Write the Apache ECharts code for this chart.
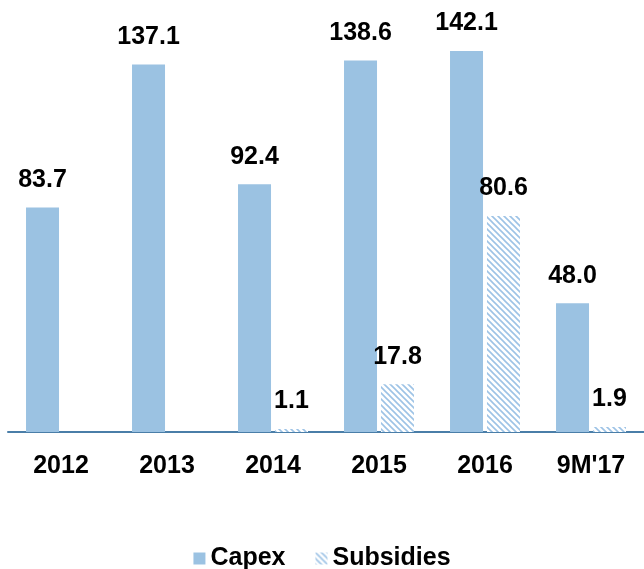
<!DOCTYPE html>
<html>
<head>
<meta charset="utf-8">
<script src="https://cdn.jsdelivr.net/npm/echarts@6/dist/echarts.min.js"></script>
<style>
  html, body { margin: 0; padding: 0; background: #fff; }
  #chart { width: 644px; height: 569px; }
</style>
</head>
<body>
<div id="chart"></div>
<script>
// data
var years = ['2012', '2013', '2014', '2015', '2016', "9M'17"]
var capex = [83.7, 137.1, 92.4, 138.6, 142.1, 48.0]
var subsidies = [null, null, 1.1, 17.8, 80.6, 1.9]

// hatched fill for subsidies
function hatch() {
  var c = document.createElement('canvas')
  c.width = 6
  c.height = 6
  var ctx = c.getContext('2d')
  ctx.fillStyle = '#fff'
  ctx.fillRect(0, 0, 6, 6)
  ctx.strokeStyle = '#9DC3E6'
  ctx.lineWidth = 1.6
  ctx.beginPath()
  ctx.moveTo(-1, -1); ctx.lineTo(7, 7)
  ctx.moveTo(-7, -1); ctx.lineTo(1, 7)
  ctx.moveTo(5, -1); ctx.lineTo(13, 7)
  ctx.stroke()
  return c
}

var chart = echarts.init(document.getElementById('chart'))
var labelStyle = {
  show: true,
  position: 'top',
  distance: 15,
  fontFamily: 'Liberation Sans, Arial',
  fontWeight: 'bold',
  fontSize: 25,
  color: '#000',
  formatter: function (p) { return p.value.toFixed(1) }
}
chart.setOption({
  animation: false,
  grid: { left: 8, right: -2, top: 3, bottom: 137 },
  legend: {
    bottom: -7,
    left: 'center',
    itemWidth: 12,
    itemHeight: 12,
    itemGap: 30,
    textStyle: { fontFamily: 'Liberation Sans, Arial', fontWeight: 'bold', fontSize: 25, color: '#000' },
    data: [{ name: 'Capex', icon: 'rect' }, { name: 'Subsidies', icon: 'rect' }]
  },
  xAxis: {
    type: 'category',
    data: years,
    axisLine: { lineStyle: { color: '#4A7EA8', width: 2 } },
    axisTick: { show: false },
    axisLabel: {
      margin: 22,
      fontFamily: 'Liberation Sans, Arial',
      fontWeight: 'bold',
      fontSize: 25,
      color: '#000'
    }
  },
  yAxis: {
    type: 'value',
    min: 0,
    max: 160,
    show: false
  },
  series: [
    {
      name: 'Capex',
      type: 'bar',
      data: capex,
      barWidth: 33,
      barGap: '12%',
      itemStyle: { color: '#9BC2E2' },
      label: labelStyle
    },
    {
      name: 'Subsidies',
      type: 'bar',
      data: subsidies,
      barWidth: 33,
      itemStyle: { color: { image: hatch(), repeat: 'repeat' } },
      label: labelStyle
    }
  ]
})
</script>
</body>
</html>
